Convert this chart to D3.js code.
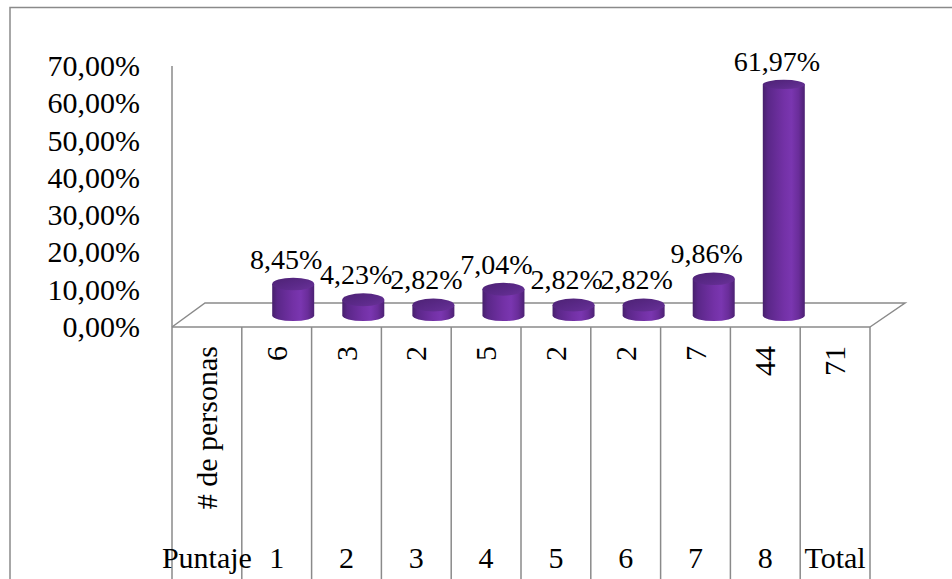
<!DOCTYPE html>
<html>
<head>
<meta charset="utf-8">
<script src="https://cdn.jsdelivr.net/npm/d3@7"></script>
<style>
  html, body { margin: 0; padding: 0; background: #fff; }
  svg { display: block; }
</style>
</head>
<body>
<svg id="chart" width="952" height="579"></svg>
<script>
// Table columns (first column holds the row headers)
const columns = ["Puntaje", "1", "2", "3", "4", "5", "6", "7", "8", "Total"];
const rowHeader = "# de personas";
const counts = ["", "6", "3", "2", "5", "2", "2", "7", "44", "71"];
// Percentage per score
const scores = ["1", "2", "3", "4", "5", "6", "7", "8"];
const percents = [8.45, 4.23, 2.82, 7.04, 2.82, 2.82, 9.86, 61.97];
const yTicks = [0, 10, 20, 30, 40, 50, 60, 70];

const face = "Liberation Serif";
const svg = d3.select("#chart");
const gridColor = "#8a8a8a";

// Plot geometry
const left = 172, right = 870, floorFront = 327, floorTop = 66;
const depthX = 34, depthY = -24;

const x = d3.scaleBand().domain(columns).range([left, right]).padding(0);
const y = d3.scaleLinear().domain([0, 70]).range([floorFront, floorTop]);
const fmt = v => v.toFixed(2).replace(".", ",") + "%";

// Outer frame
svg.append("rect")
  .attr("x", 10).attr("y", 7.5).attr("width", 1000).attr("height", 1000)
  .attr("fill", "none").attr("stroke", gridColor).attr("stroke-width", 1.5);

// Gradients for the cylinders
const defs = svg.append("defs");
const side = defs.append("linearGradient").attr("id", "cylSide")
  .attr("x1", "0").attr("x2", "1").attr("y1", "0").attr("y2", "0");
[[0, "#47206c"], [0.12, "#5a2788"], [0.5, "#7331a6"], [0.68, "#7a36b0"], [0.85, "#6a2d9a"], [1, "#4c2173"]]
  .forEach(([o, c]) => side.append("stop").attr("offset", o).attr("stop-color", c));
const topG = defs.append("linearGradient").attr("id", "cylTop")
  .attr("x1", "0").attr("x2", "1").attr("y1", "0").attr("y2", "1");
[[0, "#4d2274"], [0.6, "#5c2a8a"], [1, "#6a3299"]]
  .forEach(([o, c]) => topG.append("stop").attr("offset", o).attr("stop-color", c));

// Value axis labels
svg.append("g").selectAll("text").data(yTicks).join("text")
  .attr("x", 140).attr("y", d => y(d) + 10)
  .attr("text-anchor", "end")
  .attr("font-family", face).attr("font-size", 30).attr("fill", "#000")
  .text(fmt);

// Vertical axis line
svg.append("line")
  .attr("x1", left).attr("x2", left).attr("y1", floorTop).attr("y2", floorFront)
  .attr("stroke", gridColor).attr("stroke-width", 1.5);

// Floor
svg.append("path")
  .attr("d", `M${left},${floorFront} L${left + depthX - 1},${floorFront + depthY} L${right + depthX + 1},${floorFront + depthY} L${right},${floorFront}`)
  .attr("fill", "none").attr("stroke", gridColor).attr("stroke-width", 1.5);

// Data table grid
const bounds = columns.map(c => x(c)).concat([right]);
svg.append("g").selectAll("line").data(bounds).join("line")
  .attr("x1", d => d).attr("x2", d => d)
  .attr("y1", floorFront).attr("y2", 579)
  .attr("stroke", gridColor).attr("stroke-width", 1.5);
svg.append("line")
  .attr("x1", left).attr("x2", right).attr("y1", floorFront).attr("y2", floorFront)
  .attr("stroke", gridColor).attr("stroke-width", 1.5);

// Table: row header and counts (rotated)
const cellText = [rowHeader].concat(counts.slice(1));
svg.append("g").selectAll("text").data(cellText).join("text")
  .attr("transform", (d, i) => `translate(${x(columns[i]) + x.bandwidth() / 2 + 10},346) rotate(-90)`)
  .attr("text-anchor", "end")
  .attr("font-family", face).attr("font-size", 30).attr("fill", "#000")
  .text(d => d);

// Table: score labels
svg.append("g").selectAll("text").data(columns).join("text")
  .attr("x", d => x(d) + x.bandwidth() / 2).attr("y", 568)
  .attr("text-anchor", "middle")
  .attr("font-family", face).attr("font-size", 30).attr("fill", "#000")
  .text(d => d);

// Cylinders
const rx = 21;
const bars = scores.map((s, i) => {
  const c = x(s) + x.bandwidth() / 2;
  const cx = c + 16.5 + 2 * (c - 277) / (766 - 277);
  const yb = y(0) - 11.5;
  const yt = y(percents[i]) - 11.5;
  const ryTop = Math.max(4.6, Math.min(6.5, 4.6 + 1.9 * (yt - 85) / (300 - 85)));
  return { s, v: percents[i], cx, yb, yt, ryTop, ryBase: 5.5 };
});

const g = svg.append("g");
bars.forEach(b => {
  g.append("path")
    .attr("d", `M${b.cx - rx},${b.yt} L${b.cx - rx},${b.yb} A${rx},${b.ryBase} 0 0 0 ${b.cx + rx},${b.yb} L${b.cx + rx},${b.yt} Z`)
    .attr("fill", "url(#cylSide)");
  g.append("ellipse")
    .attr("cx", b.cx).attr("cy", b.yt).attr("rx", rx).attr("ry", b.ryTop)
    .attr("fill", "url(#cylTop)");
});

// Value labels
svg.append("g").selectAll("text").data(bars).join("text")
  .attr("x", d => d.cx - 7).attr("y", d => d.yt - d.ryTop - 9)
  .attr("text-anchor", "middle")
  .attr("font-family", face).attr("font-size", 28).attr("fill", "#000")
  .text(d => fmt(d.v));
</script>
</body>
</html>
